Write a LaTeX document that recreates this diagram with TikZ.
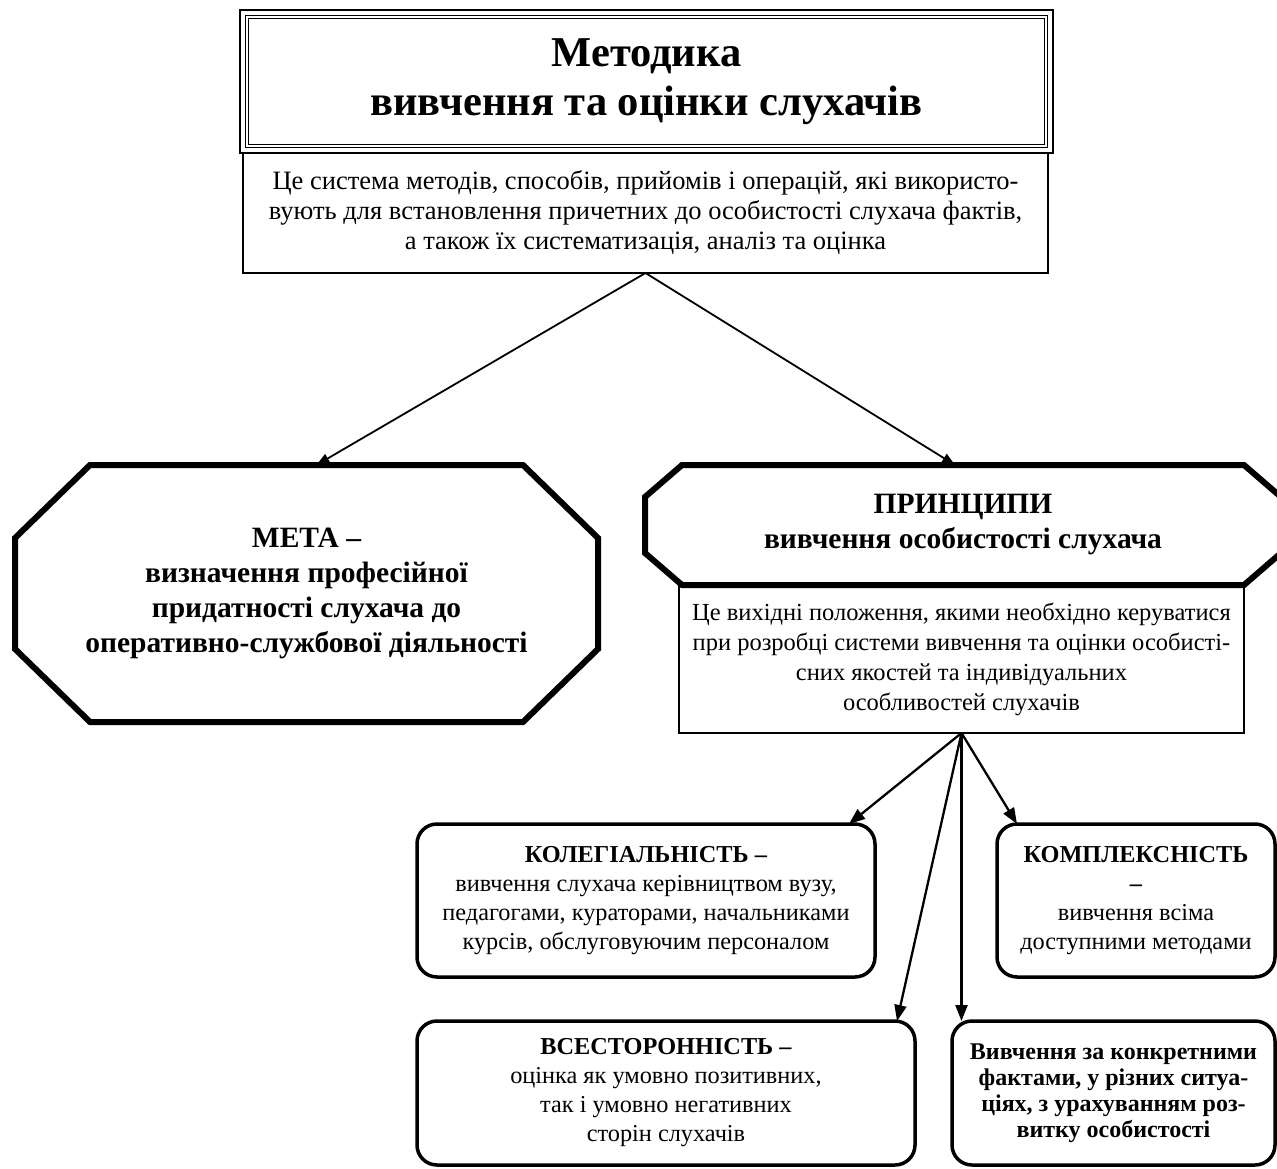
\documentclass[tikz,border=0pt]{standalone}
\usepackage{fontspec}
\setmainfont{Liberation Serif}
\usetikzlibrary{arrows.meta, positioning, calc}

\begin{document}
\begin{tikzpicture}[
    x=1pt, y=-1pt,
    >={Triangle[length=13pt, width=10pt]},
    titlebox/.style={
        draw,
        line width=2.5pt,
        outer sep=0pt,
        minimum width=813pt,
        minimum height=143pt,
        align=center,
        font=\fontsize{42.5}{49}\selectfont\bfseries
    },
    defbox/.style={
        draw,
        line width=1.6pt,
        outer sep=0pt,
        align=center,
        font=\fontsize{26.5}{30}\selectfont
    },
    octbox/.style={
        outer sep=0pt,
        align=center,
        font=\fontsize{29.5}{35}\selectfont\bfseries
    },
    octline/.style={line width=6pt, line join=miter},
    princbox/.style={
        draw,
        line width=3.5pt,
        rounded corners=20pt,
        outer sep=0pt,
        align=center,
        font=\fontsize{24.3}{29}\selectfont
    },
    link/.style={->, line width=1.8pt},
    sublink/.style={-{Triangle[length=16pt, width=12pt]}, line width=2.3pt}
]
\useasboundingbox (0,0) rectangle (1277,1169);

% top block
\node[defbox, minimum width=805pt, minimum height=120pt] (def) at (645.5,213)
    {Це система методів, способів, прийомів і операцій, які використо-\\
     вують для встановлення причетних до особистості слухача фактів,\\
     а також їх систематизація, аналіз та оцінка};
\node[titlebox, fill=white] (title) at (646.5,81.5) {Методика\\вивчення та оцінки слухачів};
\draw[line width=1pt, double distance=2.5pt] ($(title.north west)+(7,7)$) rectangle ($(title.south east)+(-7,-7)$);

% goal and principles
\node[octbox, minimum width=583pt, minimum height=257pt] (meta) at (306.5,593.5)
    {МЕТА –\\визначення професійної\\придатності слухача до\\оперативно-службової діяльності};
\node[defbox, minimum width=565pt, minimum height=148pt, font=\fontsize{24.5}{30}\selectfont] (pdef) at (961.5,659)
    {Це вихідні положення, якими необхідно керуватися\\
     при розробці системи вивчення та оцінки особисті-\\
     сних якостей та індивідуальних\\
     особливостей слухачів};
\node[octbox, minimum width=636pt, minimum height=120pt] (princ) at (963,525)
    {ПРИНЦИПИ\\вивчення особистості слухача};

\draw[octline] ($(meta.north west)+(75,0)$) -- ($(meta.north east)+(-75,0)$)
    -- ($(meta.north east)+(0,73)$) -- ($(meta.south east)+(0,-73)$)
    -- ($(meta.south east)+(-75,0)$) -- ($(meta.south west)+(75,0)$)
    -- ($(meta.south west)+(0,-73)$) -- ($(meta.north west)+(0,73)$) -- cycle;
\draw[octline] ($(princ.north west)+(37,0)$) -- ($(princ.north east)+(-37,0)$)
    -- ($(princ.north east)+(0,32)$) -- ($(princ.south east)+(0,-32)$)
    -- ($(princ.south east)+(-37,0)$) -- ($(princ.south west)+(37,0)$)
    -- ($(princ.south west)+(0,-32)$) -- ($(princ.north west)+(0,32)$) -- cycle;

% principles
\node[princbox, minimum width=458pt, minimum height=153pt] (koleg) at (646,900.5)
    {\textbf{КОЛЕГІАЛЬНІСТЬ –}\\вивчення слухача керівництвом вузу,\\
     педагогами, кураторами, начальниками\\курсів, обслуговуючим персоналом};
\node[princbox, minimum width=278pt, minimum height=153pt] (kompl) at (1136,900.5)
    {\textbf{КОМПЛЕКСНІСТЬ}\\\textbf{–}\\вивчення всіма\\доступними методами};
\node[princbox, minimum width=498pt, minimum height=144pt] (vsest) at (666,1093)
    {\textbf{ВСЕСТОРОННІСТЬ –}\\оцінка як умовно позитивних,\\так і умовно негативних\\сторін слухачів};
\node[princbox, minimum width=323pt, minimum height=144pt,
      font=\fontsize{24}{26}\selectfont\bfseries] (fakty) at (1113.5,1093)
    {Вивчення за конкретними\\фактами, у різних ситуа-\\ціях, з урахуванням роз-\\витку особистості};

% arrows
\draw[link] (def.south) -- ($(meta.north)+(10,0)$);
\draw[link] (def.south) -- ($(princ.north)+(-8,0)$);
\draw[sublink] (pdef.south) -- ($(koleg.north east)+(-26,0)$);
\draw[sublink] (pdef.south) -- ($(kompl.north west)+(20,0)$);
\draw[sublink] (pdef.south) -- ($(vsest.north east)+(-18,0)$);
\draw[sublink] (pdef.south) -- (pdef.south |- fakty.north);

\end{tikzpicture}
\end{document}
